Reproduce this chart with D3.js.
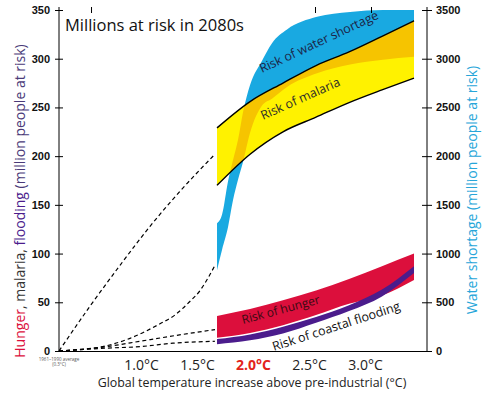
<!DOCTYPE html>
<html>
<head>
<meta charset="utf-8">
<script src="https://cdnjs.cloudflare.com/ajax/libs/d3/7.8.5/d3.min.js"></script>
<style>
  body { margin: 0; background: #fff; }
  svg text { font-family: "Open Sans", "DejaVu Sans", sans-serif; }
  .axis text { font-family: "Liberation Sans", Arial, sans-serif; font-weight: bold; font-size: 11px; fill: #111; }
  .axis path, .axis line { stroke: #000; stroke-width: 1; }
</style>
</head>
<body>
<script>
var svgWidth = 488;
var svgHeight = 397;

// tick labels
var leftTicks = [0, 50, 100, 150, 200, 250, 300, 350];
var rightTicks = [0, 500, 1000, 1500, 2000, 2500, 3000, 3500];
var tempTicks = [1.0, 1.5, 2.0, 2.5, 3.0];
var topTicks = [0.5, 2.5, 3.0];
var baseTemp = 0.214; // 1961-1990 average, where the dashed lines begin

// water shortage band (million people, right axis)
var waterTemp = [1.625, 1.67, 1.723, 1.768, 1.813, 1.857, 1.92, 2.027, 2.116, 2.25, 2.518, 2.813, 3.107, 3.384];
var waterLow  = [830, 1040, 1270, 1550, 1760, 1940, 2240, 2520, 2590, 2710, 2850, 2940, 2990, 3020];
var waterHigh = [1310, 1400, 1740, 1960, 2170, 2450, 2730, 2980, 3160, 3300, 3430, 3480, 3500, 3500];

// malaria, hunger and coastal flooding bands (million people, left axis)
var bandTemp     = [1.625, 1.92, 2.214, 2.509, 2.804, 3.098, 3.384];
var malariaHigh  = [229, 256, 275, 293, 307, 323, 339];
var malariaLow   = [170, 202, 225, 240, 255, 268, 280];
var hungerHigh   = [36, 43, 52, 62, 74, 87, 100];
var hungerLow    = [13.5, 18.5, 26.5, 37, 48.5, 57, 73];
var floodHigh    = [12.3, 17, 25, 35, 47, 63, 87];
var floodLow     = [7, 11, 18, 29, 41, 56, 80];

// dashed lines from the 1961-1990 baseline
var malariaDashTemp = [0.214, 0.491, 0.759, 1.027, 1.295, 1.598];
var malariaDash     = [0, 46, 88, 128, 164, 201];
var waterDashTemp   = [0.214, 0.58, 0.848, 1.116, 1.25, 1.375, 1.473, 1.545, 1.607];
var waterDash       = [0, 40, 130, 280, 370, 500, 620, 750, 880];
var hungerDashTemp  = [0.214, 0.67, 0.938, 1.205, 1.607];
var hungerDash      = [0, 5, 10, 15, 22];
var floodDashTemp   = [0.214, 0.643, 0.938, 1.232, 1.607];
var floodDash       = [0, 3, 4.5, 8, 10];

var colors = {
  water: "#19a9e1",
  malaria: "#fff200",
  overlap: "#f6c400",
  hunger: "#dc0f3c",
  flood: "#4b1c8c"
};

var svg = d3.select("body")
  .append("svg")
  .attr("width", svgWidth)
  .attr("height", svgHeight);

// scales
var x = d3.scaleLinear().domain([baseTemp, 3.5]).range([59, 427]);
var yLeft = d3.scaleLinear().domain([0, 350]).range([351, 10]);
var yRight = d3.scaleLinear().domain([0, 3500]).range([351, 10]);

function zip(ts, lo, hi) {
  return ts.map(function(t, i) { return { t: t, lo: lo[i], hi: hi ? hi[i] : null }; });
}

function bandArea(yScale) {
  return d3.area()
    .x(d => x(d.t))
    .y0(d => yScale(d.lo))
    .y1(d => yScale(d.hi))
    .curve(d3.curveMonotoneX);
}

var waterData = zip(waterTemp, waterLow, waterHigh);
var malariaData = zip(bandTemp, malariaLow, malariaHigh);
var hungerData = zip(bandTemp, hungerLow, hungerHigh);
var floodData = zip(bandTemp, floodLow, floodHigh);

// clip for the overlap of water and malaria
svg.append("clipPath")
  .attr("id", "malariaClip")
  .append("path")
  .attr("d", bandArea(yLeft)(malariaData));

// water shortage band
svg.append("path")
  .attr("d", bandArea(yRight)(waterData))
  .attr("fill", colors.water);

// malaria band
svg.append("path")
  .attr("d", bandArea(yLeft)(malariaData))
  .attr("fill", colors.malaria);

// overlap
svg.append("path")
  .attr("d", bandArea(yRight)(waterData))
  .attr("clip-path", "url(#malariaClip)")
  .attr("fill", colors.overlap);

// malaria edges
var edgeLine = d3.line()
  .x(d => x(d.t))
  .y(d => yLeft(d.lo))
  .curve(d3.curveMonotoneX);

svg.append("path")
  .attr("d", edgeLine(zip(bandTemp, malariaHigh)))
  .attr("fill", "none").attr("stroke", "#000").attr("stroke-width", 1.4);
svg.append("path")
  .attr("d", edgeLine(zip(bandTemp, malariaLow)))
  .attr("fill", "none").attr("stroke", "#000").attr("stroke-width", 1.4);

// hunger and coastal flooding
svg.append("path")
  .attr("d", bandArea(yLeft)(hungerData))
  .attr("fill", colors.hunger);
svg.append("path")
  .attr("d", bandArea(yLeft)(floodData))
  .attr("fill", colors.flood);

// dashed lines
function dashLine(ts, vs, yScale) {
  var line = d3.line()
    .x(d => x(d.t))
    .y(d => yScale(d.lo))
    .curve(d3.curveMonotoneX);
  svg.append("path")
    .attr("d", line(zip(ts, vs)))
    .attr("fill", "none")
    .attr("stroke", "#000")
    .attr("stroke-width", 1.2)
    .attr("stroke-dasharray", "4,3");
}
dashLine(malariaDashTemp, malariaDash, yLeft);
dashLine(waterDashTemp, waterDash, yRight);
dashLine(hungerDashTemp, hungerDash, yLeft);
dashLine(floodDashTemp, floodDash, yLeft);

// axes
var leftAxis = svg.append("g")
  .attr("class", "axis")
  .attr("transform", "translate(59,0)")
  .call(d3.axisLeft(yLeft).tickValues(leftTicks).tickSize(4).tickSizeOuter(0).tickPadding(5));
leftAxis.selectAll(".tick line").attr("x1", -4).attr("x2", 4);
leftAxis.select(".domain").attr("d", "M0,7V351");

var rightAxis = svg.append("g")
  .attr("class", "axis")
  .attr("transform", "translate(427,0)")
  .call(d3.axisRight(yRight).tickValues(rightTicks).tickFormat(d3.format("d"))
    .tickSize(5).tickSizeOuter(0).tickPadding(4));
rightAxis.selectAll(".tick line").attr("x1", -5).attr("x2", 5);
rightAxis.select(".domain").attr("d", "M0,7V351");

var bottomAxis = svg.append("g")
  .attr("transform", "translate(0,351)")
  .call(d3.axisBottom(x).tickValues(tempTicks).tickSize(0).tickSizeOuter(0).tickPadding(9)
    .tickFormat(d => d.toFixed(1) + "°C"));
bottomAxis.select(".domain").attr("stroke", "#000");
bottomAxis.selectAll("text")
  .attr("dx", -6)
  .style("font-family", "'Open Sans', sans-serif")
  .style("font-size", "14px")
  .attr("fill", "#222")
  .filter(d => d === 2.0)
  .attr("fill", "#e2231a")
  .style("font-weight", "bold");

var topAxis = svg.append("g")
  .attr("transform", "translate(0,7)")
  .call(d3.axisBottom(x).tickValues(topTicks).tickSize(6).tickFormat(""));
topAxis.select(".domain").remove();
topAxis.selectAll("line").attr("stroke", "#000");

// baseline note under origin
svg.append("text")
  .attr("x", 59).attr("y", 361)
  .attr("text-anchor", "middle")
  .style("font-size", "4.5px")
  .attr("fill", "#555")
  .text("1961–1990 average");
svg.append("text")
  .attr("x", 59).attr("y", 366)
  .attr("text-anchor", "middle")
  .style("font-size", "4.5px")
  .attr("fill", "#555")
  .text("(0.3°C)");

// title
svg.append("text")
  .attr("x", 65).attr("y", 31)
  .style("font-size", "16.5px")
  .attr("fill", "#111")
  .text("Millions at risk in 2080s");

// x axis title
svg.append("text")
  .attr("x", 252).attr("y", 387)
  .attr("text-anchor", "middle")
  .style("font-size", "12.4px")
  .attr("fill", "#222")
  .text("Global temperature increase above pre-industrial (°C)");

// left y title
var leftTitle = svg.append("text")
  .attr("transform", "translate(25,201) rotate(-90)")
  .attr("text-anchor", "middle")
  .style("font-size", "14px");
leftTitle.append("tspan").attr("fill", colors.hunger).text("Hunger");
leftTitle.append("tspan").attr("fill", "#333").text(", malaria, ");
leftTitle.append("tspan").attr("fill", colors.flood).text("flooding");
leftTitle.append("tspan").attr("fill", "#4a3a78").text(" (million people at risk)");

// right y title
svg.append("text")
  .attr("transform", "translate(477,190) rotate(-90)")
  .attr("text-anchor", "middle")
  .style("font-size", "14px")
  .attr("fill", "#27a6d9")
  .text("Water shortage (million people at risk)");

// band labels
var bandLabels = [
  { text: "Risk of water shortage", x: 262, y: 73, a: -25, s: 12.5, c: "#1c2447" },
  { text: "Risk of malaria", x: 263, y: 120, a: -24, s: 12.5, c: "#2a2a2a" },
  { text: "Risk of hunger", x: 243, y: 324, a: -15, s: 12, c: "#3a0a12" },
  { text: "Risk of coastal flooding", x: 274, y: 351, a: -18, s: 12.5, c: "#111" }
];
svg.selectAll(".bandLabel")
  .data(bandLabels)
  .enter()
  .append("text")
  .attr("class", "bandLabel")
  .attr("transform", d => `translate(${d.x},${d.y}) rotate(${d.a})`)
  .style("font-size", d => d.s + "px")
  .attr("fill", d => d.c)
  .text(d => d.text);
</script>
</body>
</html>
